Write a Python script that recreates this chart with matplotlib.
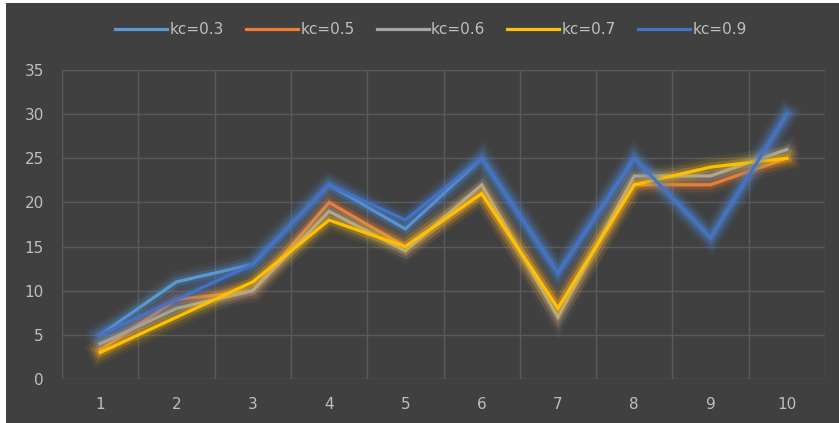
import matplotlib
matplotlib.use('Agg')
import matplotlib.pyplot as plt
import matplotlib.patheffects as pe
from matplotlib.patches import Rectangle

x = [1, 2, 3, 4, 5, 6, 7, 8, 9, 10]
kc03 = [5, 11, 13, 22, 17, 25, 12, 25, 16, 30]
kc05 = [3.3, 9, 10, 20, 15, 21, 8, 22, 22, 25]
kc06 = [4, 8, 10, 19, 14.5, 22, 7, 23, 23, 26]
kc07 = [3, 7, 11, 18, 15, 21, 8, 22, 24, 25]
kc09 = [5, 9, 13, 22, 18, 25, 12, 25, 16, 30]
labels = ['kc=0.3', 'kc=0.5', 'kc=0.6', 'kc=0.7', 'kc=0.9']
colors = ['#5B9BD5', '#ED7D31', '#A5A5A5', '#FFC000', '#4472C4']

plt.rcParams['font.family'] = ['DejaVu Sans']
bg = '#404040'
txt = '#BFBFBF'

fig = plt.figure(figsize=(8.39, 4.23), dpi=100, facecolor='white')
# dark chart area with a thin white strip on the left and top
fig.patches.append(Rectangle((6 / 839, 0), 833 / 839, 420 / 423,
                             transform=fig.transFigure, facecolor=bg,
                             edgecolor='none', zorder=-10))
ax = fig.add_axes([62 / 839, 44 / 423, 763 / 839, 309 / 423])
ax.set_zorder(5)
ax.set_facecolor(bg)

series = [kc03, kc05, kc06, kc07, kc09]
for i, (s, c, l) in enumerate(zip(series, colors, labels)):
    glow = [pe.Stroke(linewidth=16, foreground=c, alpha=0.06),
            pe.Stroke(linewidth=11, foreground=c, alpha=0.11),
            pe.Stroke(linewidth=6.5, foreground=c, alpha=0.22),
            pe.Normal()]
    line, = ax.plot(x, s, color=c, linewidth=2.3, label=l, zorder=3 + i,
                    solid_joinstyle='miter')
    line.set_path_effects(glow)

ax.set_xlim(0.5, 10.5)
ax.set_ylim(0, 35)
ax.set_xticks(x)
ax.set_xticks([v + 0.5 for v in range(0, 11)], minor=True)
ax.set_yticks(range(0, 36, 5))
ax.grid(True, axis='y', color='#5A5A5A', linewidth=1)
ax.grid(True, axis='x', which='minor', color='#5A5A5A', linewidth=1)
ax.set_axisbelow(True)
for sp in ax.spines.values():
    sp.set_visible(False)
ax.tick_params(axis='both', which='both', length=0, colors=txt, labelsize=11)
ax.tick_params(axis='x', pad=13)
ax.tick_params(axis='y', pad=13)

leg_handles = [plt.Line2D([0], [0], color=c, linewidth=2.3) for c in colors]
fig.legend(leg_handles, labels, loc='center',
           bbox_to_anchor=(431 / 839, 1 - 30 / 423), bbox_transform=fig.transFigure,
           ncol=5, frameon=False, fontsize=11, labelcolor=txt,
           handlelength=3.4, handletextpad=0.15, columnspacing=1.45)

fig.savefig('out.png', dpi=100, facecolor='white')
